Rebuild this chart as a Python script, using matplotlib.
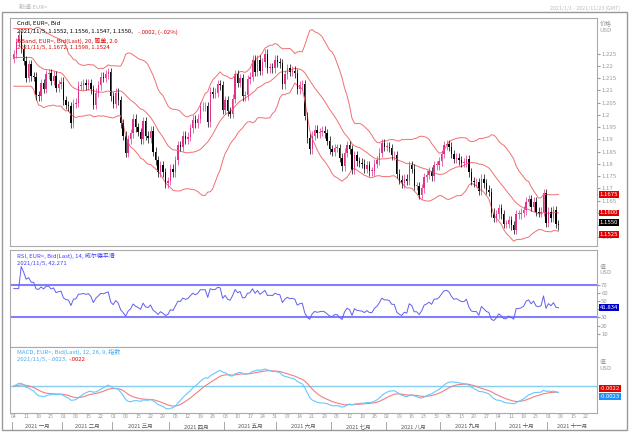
import matplotlib.pyplot as plt
import numpy as np
import pandas as pd

plt.rcParams['font.family'] = ['Noto Sans CJK SC', 'DejaVu Sans']

# daily EUR= closes, 2021-01-04 .. 2021-11-05
closes = [
    1.2248, 1.2297, 1.2325, 1.2270, 1.2220, 1.2150, 1.2207, 1.2157, 1.2156, 1.2080,
    1.2075, 1.2130, 1.2106, 1.2165, 1.2170, 1.2140, 1.2160, 1.2110, 1.2125, 1.2135,
    1.2060, 1.2040, 1.2035, 1.1965, 1.2045, 1.2050, 1.2118, 1.2120, 1.2130, 1.2120,
    1.2130, 1.2105, 1.2040, 1.2090, 1.2120, 1.2155, 1.2150, 1.2165, 1.2175, 1.2075,
    1.2045, 1.2090, 1.2060, 1.1965, 1.1915, 1.1845, 1.1900, 1.1925, 1.1985, 1.1950,
    1.1930, 1.1900, 1.1975, 1.1915, 1.1905, 1.1935, 1.1850, 1.1815, 1.1765, 1.1795,
    1.1765, 1.1720, 1.1730, 1.1780, 1.1765, 1.1815, 1.1875, 1.1870, 1.1915, 1.1900,
    1.1910, 1.1945, 1.1980, 1.1965, 1.1985, 1.2035, 1.2035, 1.2035, 1.1970, 1.2095,
    1.2085, 1.2090, 1.2125, 1.2120, 1.2020, 1.2060, 1.2015, 1.2005, 1.2065, 1.2165,
    1.2130, 1.2150, 1.2075, 1.2080, 1.2145, 1.2155, 1.2225, 1.2175, 1.2225, 1.2180,
    1.2215, 1.2250, 1.2190, 1.2195, 1.2190, 1.2225, 1.2215, 1.2210, 1.2125, 1.2165,
    1.2190, 1.2175, 1.2180, 1.2170, 1.2105, 1.2120, 1.2125, 1.1995, 1.1905, 1.1860,
    1.1915, 1.1940, 1.1925, 1.1930, 1.1935, 1.1925, 1.1895, 1.1860, 1.1850, 1.1865,
    1.1865, 1.1825, 1.1790, 1.1845, 1.1875, 1.1860, 1.1775, 1.1835, 1.1810, 1.1805,
    1.1800, 1.1780, 1.1795, 1.1770, 1.1770, 1.1800, 1.1815, 1.1845, 1.1885, 1.1870,
    1.1870, 1.1865, 1.1835, 1.1835, 1.1760, 1.1735, 1.1720, 1.1740, 1.1730, 1.1795,
    1.1780, 1.1710, 1.1710, 1.1675, 1.1700, 1.1745, 1.1755, 1.1770, 1.1750, 1.1795,
    1.1795, 1.1810, 1.1840, 1.1875, 1.1880, 1.1870, 1.1840, 1.1820, 1.1825, 1.1815,
    1.1805, 1.1805, 1.1820, 1.1765, 1.1730, 1.1725, 1.1725, 1.1690, 1.1740, 1.1720,
    1.1695, 1.1685, 1.1600, 1.1580, 1.1595, 1.1620, 1.1595, 1.1555, 1.1555, 1.1570,
    1.1550, 1.1530, 1.1595, 1.1595, 1.1600, 1.1610, 1.1645, 1.1655, 1.1625, 1.1645,
    1.1605, 1.1600, 1.1605, 1.1680, 1.1560, 1.1605, 1.1580, 1.1610, 1.1555, 1.1550,
]
all_days = pd.bdate_range('2021-01-04', '2021-11-26')
months = ['一月', '二月', '三月', '四月', '五月', '六月', '七月', '八月', '九月', '十月', '十一月']
price_ticks = [1.15, 1.155, 1.16, 1.165, 1.17, 1.175, 1.18, 1.185, 1.19, 1.195,
               1.2, 1.205, 1.21, 1.215, 1.22, 1.225]
rsi_ticks = [10, 20, 30, 40, 50, 60, 70]

c = pd.Series(closes)
o = c.shift(1).fillna(c.iloc[0] - 0.002)
ma = c.rolling(20, min_periods=8).mean().bfill()
sd = c.rolling(20, min_periods=8).std(ddof=0).bfill()
up, lo = ma + 2 * sd, ma - 2 * sd
d = c.diff()
g = d.clip(lower=0).ewm(alpha=1 / 14, adjust=False).mean()
l = (-d.clip(upper=0)).ewm(alpha=1 / 14, adjust=False).mean()
rsi = 100 - 100 / (1 + g / l.replace(0, np.nan))
rsi = rsi.fillna(65)
macd = c.ewm(span=12, adjust=False).mean() - c.ewm(span=26, adjust=False).mean()
sig = macd.ewm(span=9, adjust=False).mean()
x = np.arange(len(c))

W, H = 629, 432
fig = plt.figure(figsize=(W / 100, H / 100), dpi=100)
fig.patch.set_facecolor('white')

def px(l_, t, w, h):
    return fig.add_axes([l_ / W, 1 - (t + h) / H, w / W, h / H])

fs = 4.3
gray = '#999999'
xmax = len(all_days) - 0.5

def style(ax):
    ax.set_xlim(-1.5, xmax)
    ax.set_xticks([])
    ax.yaxis.tick_right()
    ax.tick_params(axis='y', labelsize=fs, colors=gray, length=2, pad=1)
    for s in ax.spines.values():
        s.set_color('#aaaaaa')
        s.set_linewidth(0.8)

def box(ax, v, txt, fc, dy=0):
    ax.annotate(txt, (1.0, v), xycoords=ax.get_yaxis_transform(), xytext=(2, dy),
                textcoords='offset points', fontsize=fs, color='white', va='center', zorder=5,
                bbox=dict(boxstyle='square,pad=0.15', fc=fc, ec='none'))

def labels(ticks, hidden, tol, fmt):
    return [('' if any(abs(t - h) < tol for h in hidden) else fmt(t)) for t in ticks]

# main price panel
ax = px(10, 18, 587, 228)
style(ax)
ax.set_ylim(1.1465, 1.2395)
ax.set_yticks(price_ticks)
marks = [up.iloc[-1], ma.iloc[-1], c.iloc[-1], lo.iloc[-1]]
ax.set_yticklabels(labels(price_ticks, marks, 0.0022, lambda v: f'{v:g}'))
ax.plot(x, up, color='#f07070', lw=0.7)
ax.plot(x, ma, color='#f07070', lw=0.7)
ax.plot(x, lo, color='#f07070', lw=0.7)
for i in x:
    col = '#e0308a' if c[i] >= o[i] else 'black'
    hi, lw_ = max(c[i], o[i]) + 0.0018, min(c[i], o[i]) - 0.0018
    ax.vlines(i, lw_, hi, color=col, lw=0.5)
    ax.bar(i, max(abs(c[i] - o[i]), 0.0003), bottom=min(c[i], o[i]), width=0.55, color=col)
ax.text(1.004, 0.985, '价格\nUSD', transform=ax.transAxes, fontsize=fs, color=gray, va='top')
box(ax, up.iloc[-1], f'{up.iloc[-1]:.4f}', '#e00000')
box(ax, ma.iloc[-1], f'{ma.iloc[-1]:.4f}', '#e00000')
box(ax, c.iloc[-1], f'{c.iloc[-1]:.4f}', 'black', 2)
box(ax, lo.iloc[-1], f'{lo.iloc[-1]:.4f}', '#e00000', -2)
ly = [0.985, 0.95, 0.915, 0.88]
ax.text(0.012, ly[0], 'Cndl, EUR=, Bid', transform=ax.transAxes, fontsize=fs, va='top')
ax.text(0.012, ly[1], '2021/11/5, 1.1552, 1.1556, 1.1547, 1.1550,', transform=ax.transAxes,
        fontsize=fs, va='top')
ax.text(0.218, ly[1], '-.0002, (-.02%)', transform=ax.transAxes, fontsize=fs, va='top', color='#e00000')
ax.text(0.012, ly[2], 'BBand, EUR=, Bid(Last), 20, 简单, 2.0', transform=ax.transAxes,
        fontsize=fs, va='top', color='#e00000')
ax.text(0.012, ly[3], '2021/11/5, 1.1672, 1.1598, 1.1524', transform=ax.transAxes,
        fontsize=fs, va='top', color='#e00000')

# RSI panel
ar = px(10, 250, 587, 97)
style(ar)
ar.set_ylim(-6, 112)
ar.set_yticks(rsi_ticks)
ar.set_yticklabels(labels(rsi_ticks, [rsi.iloc[-1]], 6, lambda v: f'{v}'))
ar.axhline(70, color='#8080ff', lw=1.5)
ar.axhline(30, color='#8080ff', lw=1.5)
ar.plot(x, rsi, color='#6060ee', lw=0.7)
ar.text(1.004, 0.85, '值\nUSD', transform=ar.transAxes, fontsize=fs, color=gray, va='top')
box(ar, rsi.iloc[-1], f'{rsi.iloc[-1]:.3f}', '#0000cc')
ar.text(0.012, 0.97, 'RSI, EUR=, Bid(Last), 14, 威尔德平滑', transform=ar.transAxes,
        fontsize=fs, va='top', color='#4040ff')
ar.text(0.012, 0.89, '2021/11/5, 42.271', transform=ar.transAxes, fontsize=fs, va='top', color='#4040ff')

# MACD panel
am = px(10, 347, 587, 66)
style(am)
mn, mx = macd.min(), macd.max()
am.set_ylim(mn - 0.1 * (mx - mn), mx + 0.55 * (mx - mn))
am.set_yticks([])
am.axhline(0, color='#88ccee', lw=1.0)
am.plot(x, sig, color='#f08080', lw=0.8)
am.plot(x, macd, color='#66c8ff', lw=0.8)
am.text(1.004, 0.8, '值\nUSD', transform=am.transAxes, fontsize=fs, color=gray, va='top')
box(am, sig.iloc[-1], f'{sig.iloc[-1]:.4f}', '#e00000', 3)
box(am, macd.iloc[-1], f'{macd.iloc[-1]:.4f}', '#1e90ff', -3)
am.text(0.012, 0.97, 'MACD, EUR=, Bid(Last), 12, 26, 9, 指数', transform=am.transAxes,
        fontsize=fs, va='top', color='#44aaee')
am.text(0.012, 0.85, '2021/11/5, -.0023,', transform=am.transAxes, fontsize=fs, va='top', color='#44aaee')
am.text(0.1, 0.85, '-.0022', transform=am.transAxes, fontsize=fs, va='top', color='#e00000')

# date axis
ad = px(10, 413, 587, 17)
ad.set_xlim(-1.5, xmax)
ad.set_ylim(0, 1)
ad.axis('off')
for i, day in enumerate(all_days):
    if day.weekday() == 0 or i == 0:
        ad.text(i, 0.78, f'{day.day:02d}', fontsize=fs - 0.5, color=gray, ha='center', va='center')
for m in range(1, 12):
    idx = np.where(all_days.month == m)[0]
    ad.text(idx.mean(), 0.2, f'2021 {months[m - 1]}', fontsize=fs - 0.3, color='#555555',
            ha='center', va='center')
    ad.axvline(idx[0] - 0.5, 0, 0.45, color=gray, lw=0.6)

fig.text(0.03, 0.988, '融通 EUR=', fontsize=fs, color='#bbbbbb', va='top')
fig.text(0.985, 0.988, '2021/1/1 - 2021/11/23 (GMT)', fontsize=fs - 0.5, color='#bbbbbb', va='top', ha='right')
fig.add_artist(plt.Rectangle((0.003, 0.005), 0.994, 0.968, transform=fig.transFigure,
                             fill=False, ec='#999999', lw=1))

fig.savefig('out.png', dpi=100)
